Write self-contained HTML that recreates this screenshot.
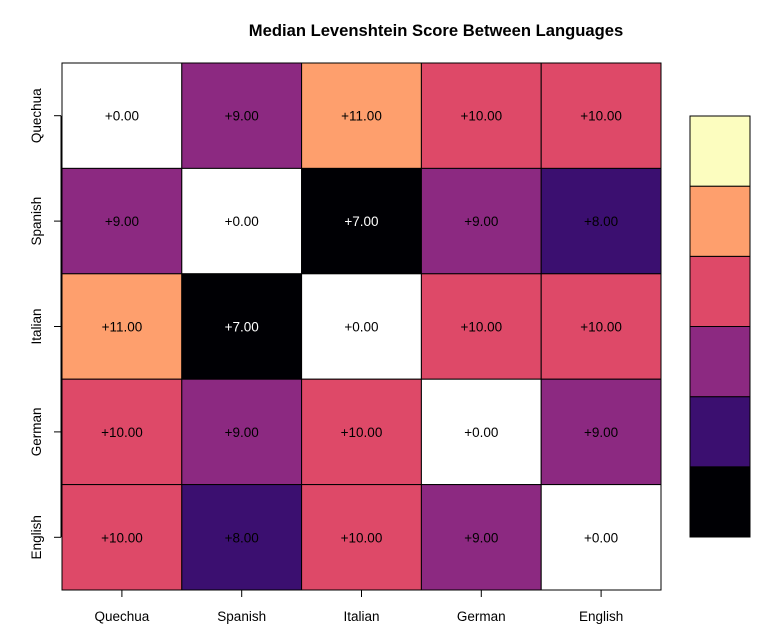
<!DOCTYPE html>
<html><head><meta charset="utf-8"><style>
body{margin:0;background:#fff;}
svg{display:block;font-family:"Liberation Sans",Arial,sans-serif;}
</style></head><body>
<svg id="chart" width="770" height="644" viewBox="0 0 770 644">
<text x="436" y="36" text-anchor="middle" font-size="16.6" font-weight="bold">Median Levenshtein Score Between Languages</text>
<g id="cells"></g>
<g id="axes"></g>
<g id="legend"></g>
</svg>
<script>
const languages = ["Quechua","Spanish","Italian","German","English"];
const scores = [
  [0,9,11,10,10],
  [9,0,7,9,8],
  [11,7,0,10,10],
  [10,9,10,0,9],
  [10,8,10,9,0]
];
const legendColors = ["#000004","#3b0f70","#8c2981","#de4968","#fe9f6d","#fcfdbf"];
const colorMap = {7:"#000004",8:"#3b0f70",9:"#8c2981",10:"#de4968",11:"#fe9f6d",12:"#fcfdbf"};

const NS="http://www.w3.org/2000/svg";
const X0=62,X1=661,Y0=63,Y1=590;
const cw=(X1-X0)/languages.length, ch=(Y1-Y0)/languages.length;
function xPos(i){return X0+i*cw;}
function yPos(j){return Y0+j*ch;}
function mk(tag,attrs,parent){const e=document.createElementNS(NS,tag);for(const k in attrs)e.setAttribute(k,attrs[k]);parent.appendChild(e);return e;}
const cells=document.getElementById('cells');
scores.forEach((row,r)=>{row.forEach((v,c)=>{
  const fill=v===0?"#ffffff":(colorMap[v]||"#ffffff");
  const rect=mk('rect',{x:xPos(c),y:yPos(r),width:cw,height:ch,fill:fill,stroke:"#000","stroke-width":1},cells);
  
  
  const t=mk('text',{x:xPos(c)+cw/2,y:yPos(r)+ch/2+5,"text-anchor":"middle","font-size":13.5,fill:(v===7?"#fff":"#000")},cells);
  t.textContent="+"+v.toFixed(2);
  
  
});});
const axes=document.getElementById('axes');
const n=languages.length;
mk('line',{x1:xPos(0)+cw/2,x2:xPos(n-1)+cw/2,y1:Y1,y2:Y1,stroke:"#000"},axes);
mk('line',{x1:X0-1,x2:X0-1,y1:yPos(0)+ch/2,y2:yPos(n-1)+ch/2,stroke:"#000"},axes);
languages.forEach((l,i)=>{
  const cx=xPos(i)+cw/2;
  mk('line',{x1:cx,x2:cx,y1:Y1,y2:Y1+7,stroke:"#000"},axes);
  const t=mk('text',{x:cx,y:621,"text-anchor":"middle","font-size":13.5},axes);
  t.textContent=l;
  
  
  const cy=yPos(i)+ch/2;
  mk('line',{x1:X0-8,x2:X0-1,y1:cy,y2:cy,stroke:"#000"},axes);
  const t2=mk('text',{x:41,y:cy,"text-anchor":"middle","font-size":13.5,transform:`rotate(-90 41 ${cy})`},axes);
  t2.textContent=l;
  
  
});
const legend=document.getElementById('legend');
const LY0=116,LY1=537,lh=(LY1-LY0)/legendColors.length;
legendColors.forEach((col,i)=>{
  const r=mk('rect',{x:690,y:LY1-(i+1)*lh,width:60,height:lh,fill:col,stroke:"#000","stroke-width":1},legend);
  
  
});
</script>
</body></html>
